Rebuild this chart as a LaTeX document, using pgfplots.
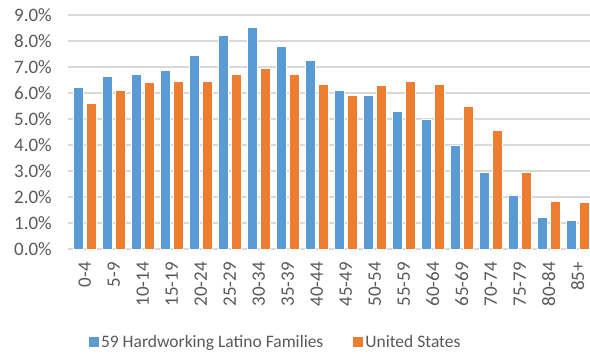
\documentclass[border=0pt]{standalone}
\usepackage{pgfplots}
\pgfplotsset{compat=1.18}
\usepackage{fontspec}
\setmainfont{Carlito}

\definecolor{xlblue}{HTML}{5B9BD5}
\definecolor{xlorange}{HTML}{ED7D31}
\definecolor{xlgrid}{HTML}{D9D9D9}
\definecolor{xltext}{HTML}{595959}

\begin{document}
\begin{tikzpicture}
\path[use as bounding box] (0,0) rectangle (590pt,354pt);
\begin{axis}[
    at={(68pt,105pt)}, anchor=south west,
    scale only axis,
    width=522pt, height=234pt,
    ybar, bar width=10.5pt,
    xmin=-0.58, xmax=17.42,
    ymin=0, ymax=9,
    ytick={0,1,...,9},
    xtick=data,
    xticklabels={0-4,5-9,10-14,15-19,20-24,25-29,30-34,35-39,40-44,45-49,50-54,55-59,60-64,65-69,70-74,75-79,80-84,85+},
    yticklabel={\pgfmathprintnumber[fixed,fixed zerofill,precision=1]{\tick}\%},
    /pgf/number format/assume math mode=true,
    ymajorgrids,
    grid style={xlgrid, line width=1.1pt},
    axis x line*=bottom,
    axis y line*=left,
    x axis line style={xlgrid, line width=1.1pt, -},
    y axis line style={draw=none},
    major tick length=0pt,
    tick label style={font=\fontsize{19}{21}\selectfont, text=xltext, inner sep=0pt},
    xticklabel style={rotate=90, anchor=east},
    xticklabel shift=13pt,
    yticklabel shift=16pt,
    legend style={at={(0.398,-0.40)}, anchor=center, draw=none, fill=none,
        legend columns=2, font=\fontsize{17.5}{20}\selectfont, text=xltext,
        /tikz/every even column/.append style={column sep=28pt},
        nodes={inner sep=2pt}},
    legend image code/.code={\fill[#1,draw=none] (0pt,-4.5pt) rectangle (10pt,5.5pt);},
    clip=false,
]
\addplot[fill=xlblue, draw=white, line width=0.6pt, bar shift=-6.5pt] coordinates {
    (0,6.22) (1,6.64) (2,6.71) (3,6.88) (4,7.44) (5,8.23) (6,8.53) (7,7.79)
    (8,7.24) (9,6.10) (10,5.92) (11,5.30) (12,5.00) (13,3.97) (14,2.94)
    (15,2.08) (16,1.22) (17,1.10)
};
\addplot[fill=xlorange, draw=white, line width=0.6pt, bar shift=6.5pt] coordinates {
    (0,5.60) (1,6.10) (2,6.41) (3,6.46) (4,6.46) (5,6.71) (6,6.95) (7,6.71)
    (8,6.33) (9,5.92) (10,6.28) (11,6.46) (12,6.33) (13,5.49) (14,4.57)
    (15,2.94) (16,1.83) (17,1.78)
};
\legend{59 Hardworking Latino Families, United States}
\end{axis}
\end{tikzpicture}
\end{document}
